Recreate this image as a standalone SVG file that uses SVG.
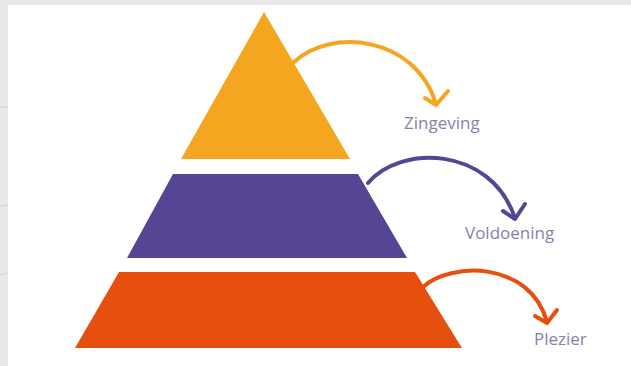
<svg xmlns="http://www.w3.org/2000/svg" width="631" height="366" viewBox="0 0 631 366">
  <style>
    .label { font-family: "Open Sans", "Noto Sans", "Liberation Sans", sans-serif; font-size: 17px; fill: #8582ae; }
    .arc { fill: none; stroke-width: 4; stroke-linecap: round; stroke-linejoin: round; }
    .yellow { fill: #f4a621; }
    .purple { fill: #564594; }
    .orange { fill: #e5500f; }
    .s-yellow { stroke: #f4a621; }
    .s-purple { stroke: #564594; }
    .s-orange { stroke: #e5500f; }
  </style>

  <!-- page frame -->
  <rect x="0" y="0" width="631" height="366" fill="#e9e9e9"/>
  <rect x="8" y="5" width="623" height="361" fill="#ffffff"/>
  <g stroke="#cfcfcf" stroke-width="1">
    <line x1="0" y1="107" x2="8" y2="107"/>
    <line x1="0" y1="206" x2="8" y2="205"/>
    <line x1="0" y1="275" x2="8" y2="273"/>
  </g>

  <!-- pyramid layers -->
  <g id="zingeving">
    <polygon class="yellow" points="264,12 350,159 181,159"/>
    <text class="label" x="404" y="129">Zingeving</text>
  </g>
  <g id="voldoening">
    <polygon class="purple" points="173,174 358,174 407,258 127,258"/>
    <text class="label" x="465" y="239">Voldoening</text>
  </g>
  <g id="plezier">
    <polygon class="orange" points="119,272 415,272 462,348 75,348"/>
    <text class="label" x="534" y="345">Plezier</text>
  </g>

  <!-- curved arrows from each layer to its label -->
  <g id="connectors">
    <path class="arc s-yellow" d="M294,62 C330,28 415,35 436,104"/>
    <path class="arc s-yellow" d="M425,98 L436,105 L448,91"/>
    <path class="arc s-purple" d="M368,183 C400,145 490,145 515,218"/>
    <path class="arc s-purple" d="M503,211 L515,219 L525,204"/>
    <path class="arc s-orange" d="M423,287 C450,262 530,260 547,322"/>
    <path class="arc s-orange" d="M535,316 L547,323 L557,310"/>
  </g>
</svg>
